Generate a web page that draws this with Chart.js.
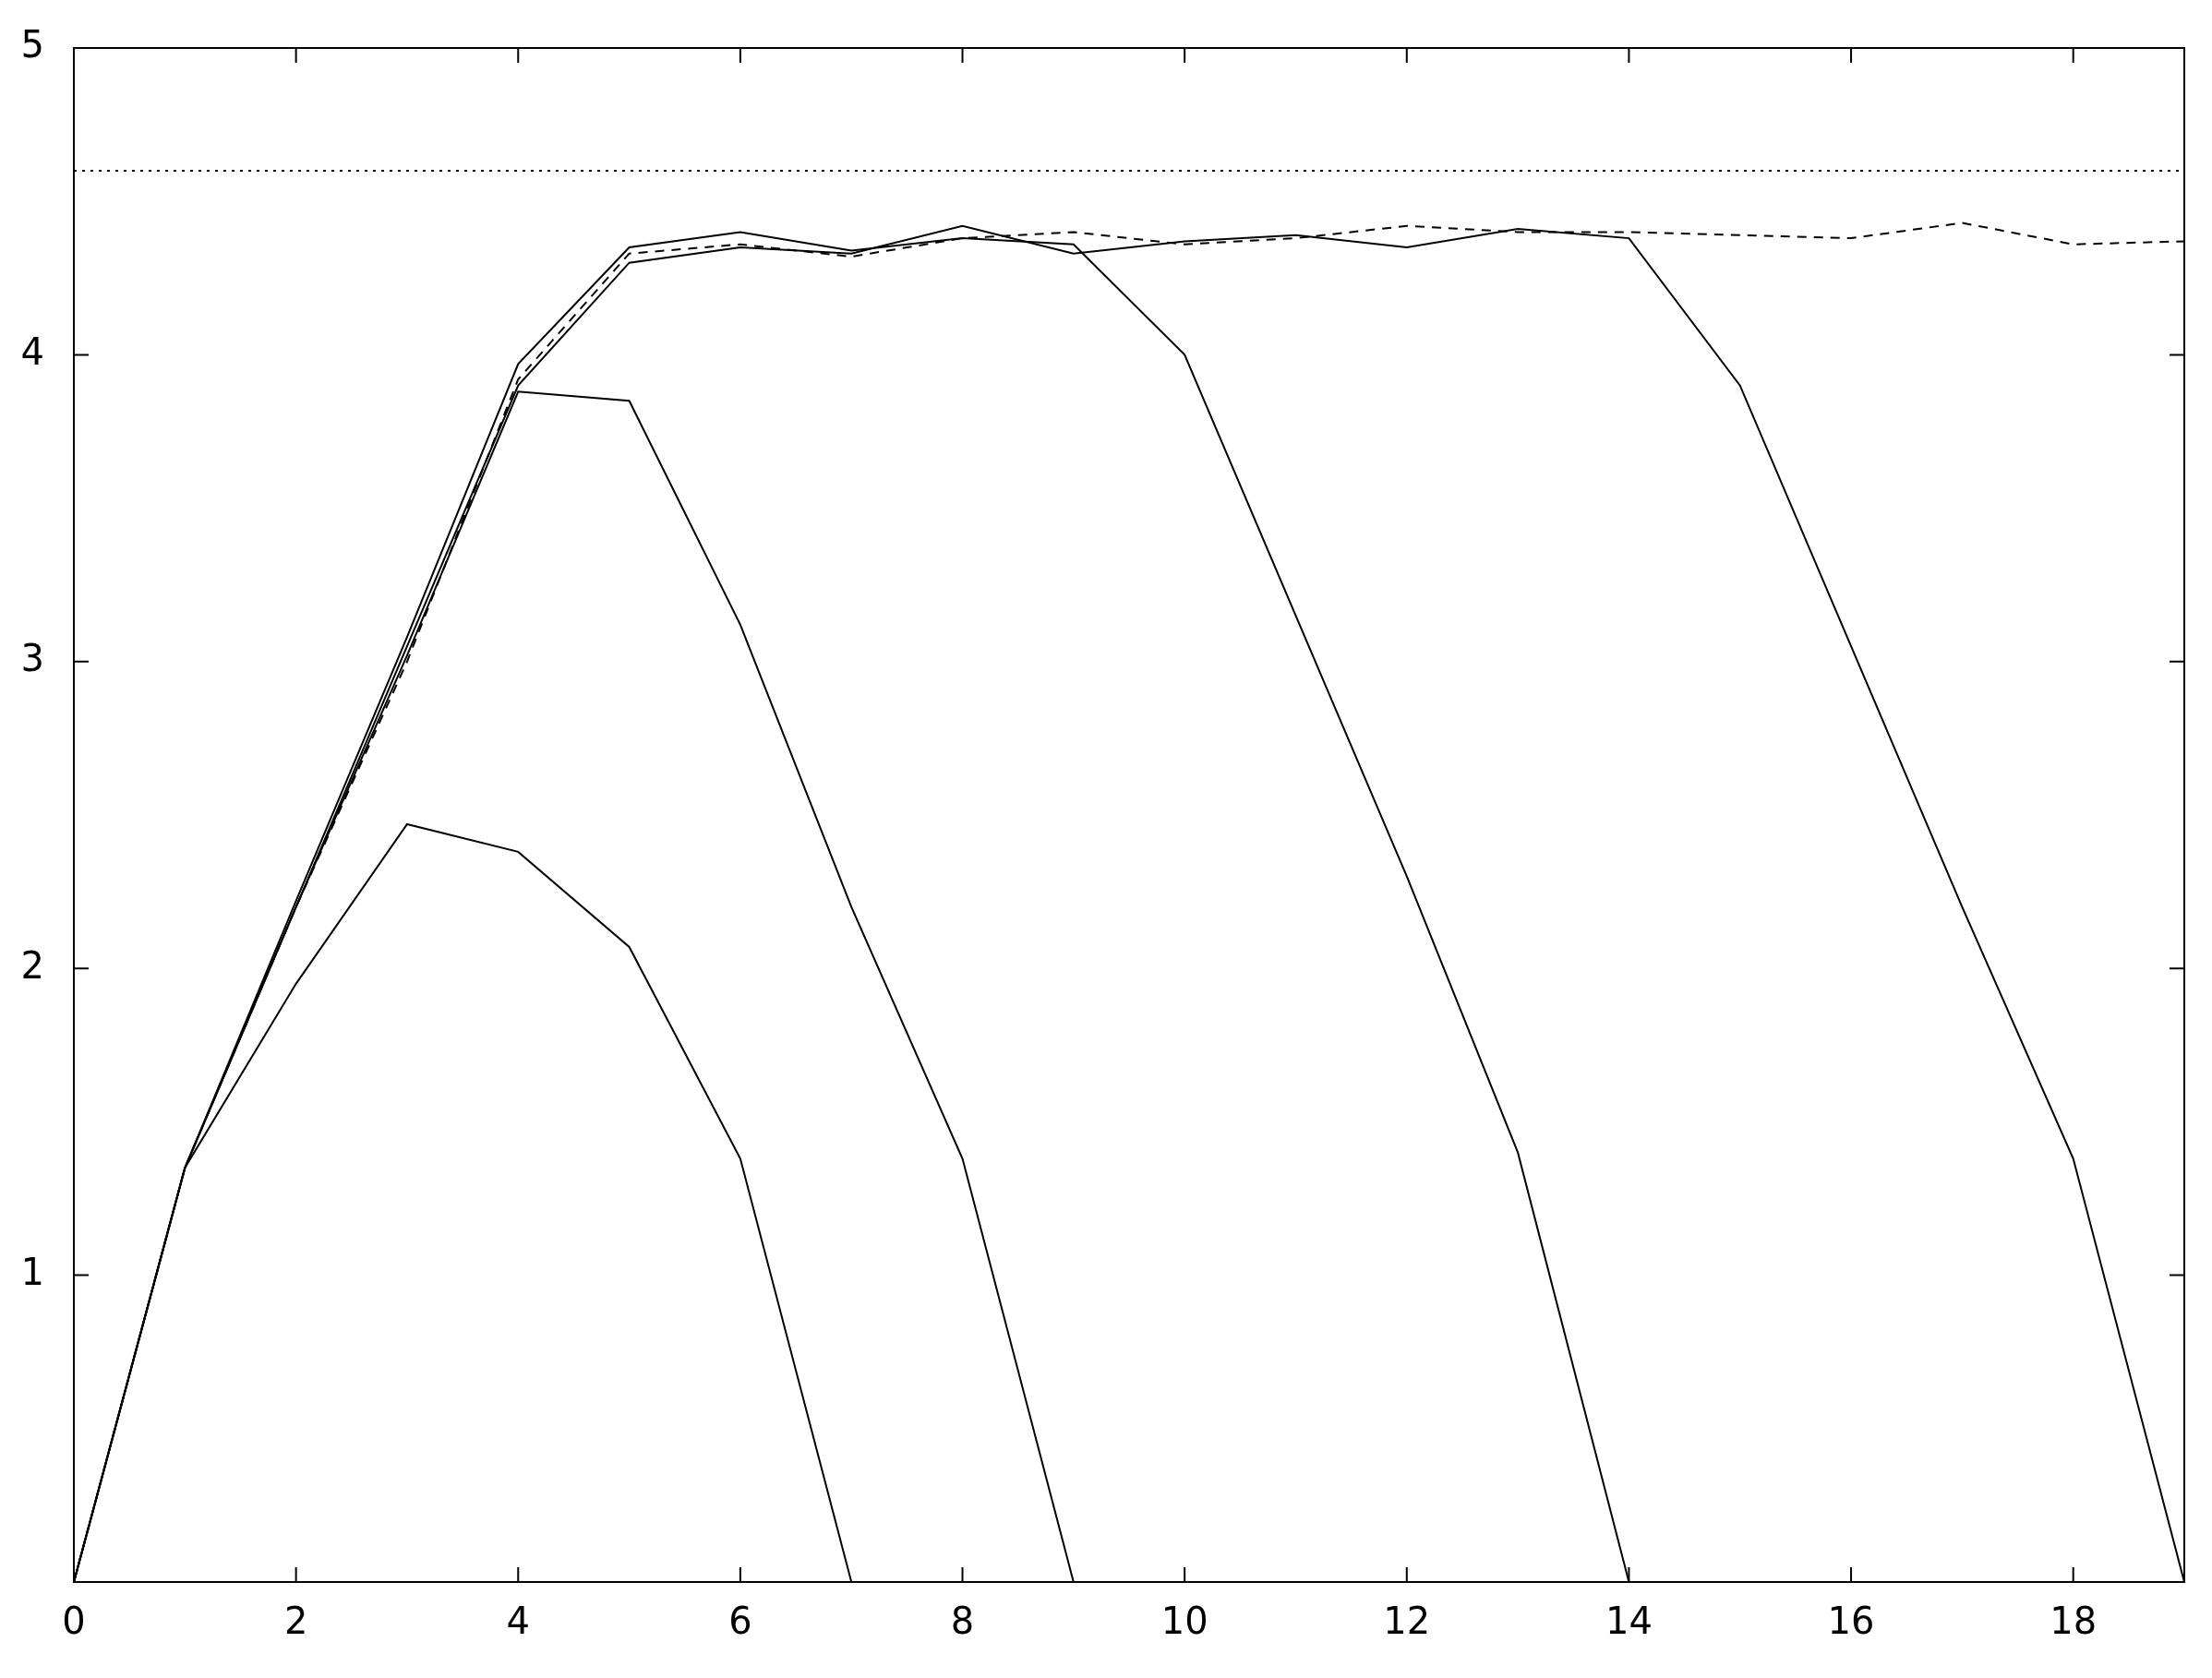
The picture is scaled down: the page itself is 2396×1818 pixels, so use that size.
<!DOCTYPE html>
<html>
<head>
<meta charset="utf-8">
<script src="https://cdn.jsdelivr.net/npm/chart.js@4/dist/chart.umd.min.js"></script>
<style>
  html, body { margin: 0; padding: 0; background: #fff; }
  #wrap { width: 2396px; height: 1818px; }
</style>
</head>
<body>
<div id="wrap"><canvas id="c"></canvas></div>
<script>
// Curves, x = 0, 1, 2, ...
const run7  = [0, 1.35, 1.95, 2.47, 2.38, 2.07, 1.38, 0];
const run9  = [0, 1.35, 2.2, 3.02, 3.88, 3.85, 3.12, 2.2, 1.38, 0];
const run14 = [0, 1.35, 2.22, 3.08, 3.97, 4.35, 4.4, 4.34, 4.38, 4.36, 4.0, 3.15, 2.3, 1.4, 0];
const run19 = [0, 1.35, 2.2, 3.05, 3.9, 4.3, 4.35, 4.33, 4.42, 4.33, 4.37, 4.39, 4.35, 4.41, 4.38, 3.9, 3.05, 2.2, 1.38, 0];
const steady = [0, 1.35, 2.2, 3.0, 3.92, 4.33, 4.36, 4.32, 4.38, 4.4, 4.36, 4.38, 4.42, 4.4, 4.4, 4.39, 4.38, 4.43, 4.36, 4.37];
const limit = 4.6;
const xTicks = [0, 2, 4, 6, 8, 10, 12, 14, 16, 18];
const yTicks = [1, 2, 3, 4, 5];

const pts = arr => arr.map((y, x) => ({ x, y }));
const line = (arr, dash) => ({
  data: pts(arr), borderColor: '#000', borderWidth: 2, borderDash: dash || [],
  pointRadius: 0, tension: 0, fill: false
});

// inward tick marks on all four sides
const innerTicks = {
  id: 'innerTicks',
  afterDraw(chart) {
    const { ctx, chartArea: a, scales: { x, y } } = chart;
    const len = 16;
    ctx.save();
    ctx.strokeStyle = '#000';
    ctx.lineWidth = 2;
    ctx.beginPath();
    xTicks.forEach(v => {
      const px = x.getPixelForValue(v);
      ctx.moveTo(px, a.bottom); ctx.lineTo(px, a.bottom - len);
      ctx.moveTo(px, a.top); ctx.lineTo(px, a.top + len);
    });
    yTicks.forEach(v => {
      const py = y.getPixelForValue(v);
      ctx.moveTo(a.left, py); ctx.lineTo(a.left + len, py);
      ctx.moveTo(a.right, py); ctx.lineTo(a.right - len, py);
    });
    ctx.stroke();
    ctx.lineWidth = 2;
    ctx.strokeRect(a.left, a.top, a.right - a.left, a.bottom - a.top);
    ctx.restore();
  }
};

new Chart(document.getElementById('c'), {
  type: 'line',
  data: {
    datasets: [
      line(run7), line(run9), line(run14), line(run19),
      line(steady, [10, 8]),
      { data: [{ x: 0, y: limit }, { x: 19, y: limit }], borderColor: '#000', borderWidth: 2,
        borderDash: [3, 6], pointRadius: 0, fill: false }
    ]
  },
  options: {
    responsive: true,
    maintainAspectRatio: false,
    animation: false,
    layout: { padding: { top: 52, right: 30, bottom: 20, left: 0 } },
    plugins: { legend: { display: false }, tooltip: { enabled: false } },
    scales: {
      x: {
        type: 'linear', min: 0, max: 19,
        afterBuildTicks: s => { s.ticks = xTicks.map(value => ({ value })); },
        ticks: { color: '#000', font: { family: 'DejaVu Sans', size: 40 }, padding: 14, maxRotation: 0 },
        grid: { display: false },
        border: { display: false }
      },
      y: {
        min: 0, max: 5,
        afterBuildTicks: s => { s.ticks = yTicks.map(value => ({ value })); },
        afterFit: s => { s.width = 80; },
        ticks: { color: '#000', font: { family: 'DejaVu Sans', size: 40 }, padding: 24 },
        grid: { display: false },
        border: { display: false }
      }
    }
  },
  plugins: [innerTicks]
});
</script>
</body>
</html>
